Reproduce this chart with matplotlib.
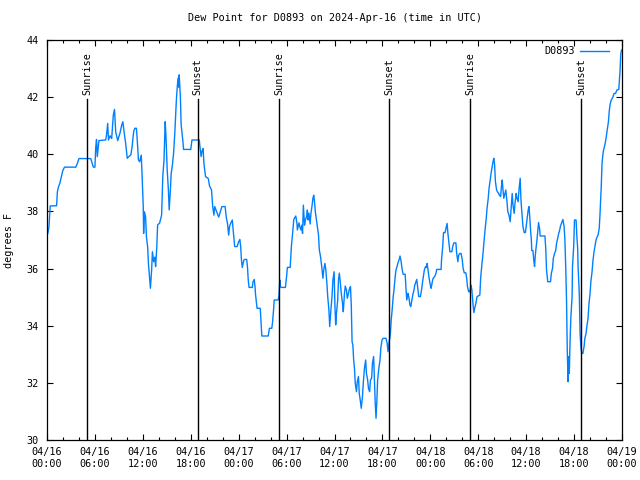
import matplotlib
matplotlib.use("Agg")
import matplotlib.pyplot as plt
import matplotlib.dates as mdates
import pandas as pd
from matplotlib.ticker import MultipleLocator

# hours after 2024-04-16 00:00 UTC, dew point in degrees F
hours = [
    0.1, 0.25, 0.4, 1.2, 1.3, 1.45, 1.6, 1.8, 2.0, 2.2, 3.6, 3.8, 4.0, 5.47, 5.6, 5.8,
    6.0, 6.1, 6.2, 6.3, 6.4, 6.5, 7.35, 7.45, 7.6, 7.7, 7.9, 8.1, 8.3, 8.45, 8.6, 8.85,
    9.0, 9.15, 9.35, 9.5, 9.65, 9.85, 10.05, 10.25, 10.5, 10.65, 10.85, 11.0, 11.2, 11.3,
    11.45, 11.6,
    11.8, 11.9, 12.05, 12.1, 12.2, 12.35, 12.45, 12.6, 12.7, 12.85, 12.95, 13.1, 13.2,
    13.35, 13.5, 13.6, 13.75, 13.85, 14.1, 14.35, 14.5, 14.65, 14.8, 14.9, 15.05, 15.2,
    15.3, 15.45, 15.55, 15.7, 15.85, 16.0, 16.2, 16.3, 16.4, 16.5, 16.55, 16.7, 16.8,
    17.0, 17.1, 18.0, 18.15, 19.07, 19.15, 19.3, 19.4, 19.55, 19.65, 19.85, 20.2, 20.35,
    20.6, 20.75, 20.9, 21.0, 21.25, 21.5, 21.7, 21.9, 22.3, 22.45, 22.6, 22.75, 22.85,
    23.0, 23.2, 23.35, 23.5, 23.8,
    24.0, 24.15, 24.25, 24.35, 24.45, 24.6, 24.7, 25.0, 25.1, 25.2, 25.3, 25.7, 25.8,
    25.95, 26.05, 26.1, 26.2, 26.3, 26.7, 26.8, 26.9, 27.7, 27.85, 28.15, 28.25, 28.4,
    28.45, 28.95, 29.05, 29.15, 29.2, 29.35, 29.85, 30.0, 30.1, 30.45, 30.6, 30.8, 30.9,
    31.05, 31.15, 31.3, 31.35, 31.55, 31.65, 31.8, 31.9, 32.0, 32.1, 32.25, 32.35, 32.5,
    32.6, 32.7, 32.8, 32.95, 33.05, 33.2, 33.3, 33.4, 33.5, 33.6, 33.8, 34.0, 34.1,
    34.25, 34.4, 34.55, 34.65, 34.8, 34.9, 35.05, 35.15, 35.3, 35.4,
    35.55, 35.7, 35.8, 35.95, 36.05, 36.15, 36.25, 36.4, 36.5, 36.6, 36.7, 36.85, 37.0,
    37.1, 37.25, 37.35, 37.5, 37.6, 37.75, 37.85, 38.0, 38.1, 38.2, 38.3, 38.4, 38.5,
    38.6, 38.75, 38.85, 39.0, 39.1, 39.25, 39.35, 39.5, 39.6, 39.75, 39.9, 40.0, 40.15,
    40.25, 40.4, 40.5, 40.65, 40.75, 40.9, 41.0, 41.1, 41.2, 41.3, 41.4, 41.55, 41.7,
    41.8, 41.95, 42.1, 42.45, 42.6, 42.7, 42.85, 43.0, 43.1, 43.2, 43.35, 43.45, 43.6,
    43.7, 43.85, 43.95, 44.1, 44.2, 44.35, 44.45, 44.6, 44.85, 44.95, 45.05, 45.2, 45.3,
    45.45, 45.55, 45.7, 45.8, 45.95, 46.05, 46.2, 46.3, 46.45, 46.55, 46.75, 46.9, 47.0,
    47.15, 47.25, 47.4, 47.5, 47.6,
    47.85, 48.0, 48.1, 48.25, 48.35, 48.55, 48.7, 48.8, 49.35, 49.4, 49.55, 49.65, 49.85,
    49.95, 50.1, 50.2, 50.35, 50.45, 50.7, 50.8, 50.95, 51.2, 51.3, 51.45, 51.55, 51.7,
    51.85, 52.0, 52.1, 52.25, 52.45, 52.55, 52.65, 52.8, 52.95, 53.1, 53.2, 53.35, 53.45,
    53.6, 53.7, 53.85, 54.2, 54.3, 54.45, 54.6, 54.7, 54.85, 55.0, 55.1, 55.25, 55.35,
    55.5, 55.6, 55.75, 55.85, 55.95, 56.05, 56.15, 56.3, 56.4, 56.55, 56.65, 56.8, 56.9,
    57.0, 57.1, 57.2, 57.35, 57.45, 57.6, 57.7, 57.85, 58.0, 58.1, 58.25, 58.35, 58.5,
    58.6, 58.75, 58.85, 59.0, 59.1, 59.25, 59.35,
    59.45, 59.6, 59.75, 59.9, 60.0, 60.15, 60.25, 60.35, 60.45, 60.55, 60.65, 60.7, 60.85,
    60.95, 61.05, 61.1, 61.2, 61.35, 61.45, 61.55, 61.7, 61.75, 62.35, 62.45, 62.55, 62.7,
    63.05, 63.15, 63.3, 63.4, 63.55, 63.7, 63.8, 63.95, 64.05, 64.2, 64.3, 64.45, 64.6,
    64.75, 64.85, 64.95, 65.05, 65.15, 65.25, 65.3, 65.4, 65.5, 65.6, 65.75, 65.8, 65.95,
    66.05, 66.25, 66.35, 66.45, 66.5, 66.65, 66.75, 66.85, 66.95, 67.1, 67.25, 67.35,
    67.5, 67.6, 67.75, 67.85, 68.0, 68.1, 68.25, 68.35, 68.5, 68.65, 68.75, 68.9, 69.0,
    69.15, 69.25, 69.4, 69.5, 69.65, 69.8, 69.9, 70.0, 70.15, 70.3, 70.4, 70.5, 70.65,
    70.85, 71.0, 71.2, 71.35, 71.6, 71.75, 71.85, 71.95,
]
dewpoint = [
    37.23, 37.47, 38.19, 38.2, 38.69, 38.87, 38.98, 39.22, 39.45, 39.55, 39.55, 39.68,
    39.85, 39.85, 39.74, 39.55, 39.55, 40.24, 40.52, 39.92, 40.2, 40.48, 40.5, 40.67,
    41.08, 40.5, 40.65, 40.55, 41.37, 41.57, 40.79, 40.48, 40.62, 40.75, 41.02, 41.14,
    40.79, 40.38, 39.86, 39.92, 39.98, 40.25, 40.79, 40.91, 40.91, 40.5, 39.80, 39.74,
    39.97, 39.33, 38.17, 37.23, 37.99, 37.8, 37.12, 36.77, 36.18, 35.66, 35.31, 35.95,
    36.59, 36.24, 36.4, 36.07, 36.77, 37.53, 37.59, 37.87, 39.22, 39.80, 41.14, 40.62,
    39.45, 38.75, 38.05, 38.75, 39.33, 39.62, 40.03, 40.73, 41.9, 42.31, 42.66, 42.35,
    42.78, 42.02, 41.02, 40.5, 40.17, 40.17, 40.5, 40.5, 40.27, 39.92, 40.1, 40.2, 39.68,
    39.22, 39.15, 38.89, 38.75, 38.17, 37.87, 38.17, 37.99, 37.8, 37.99, 38.17, 38.17,
    37.8, 37.58, 37.17, 37.47, 37.58, 37.7, 37.23, 36.77, 36.77,
    36.94, 37.02, 36.77, 36.3, 36.04, 36.24, 36.32, 36.32, 36.07, 35.6, 35.34, 35.34,
    35.54, 35.62, 35.36, 35.13, 34.88, 34.61, 34.61, 34.14, 33.64, 33.64, 33.91, 33.91,
    34.14, 34.67, 34.9, 34.9, 35.07, 35.6, 35.37, 35.34, 35.34, 35.72, 36.04, 36.04,
    36.77, 37.37, 37.72, 37.79, 37.84, 37.58, 37.35, 37.6, 37.47, 37.35, 37.52, 37.23,
    38.22, 37.52, 37.70, 37.82, 38.05, 37.7, 37.94, 37.56, 37.94, 38.22, 38.46, 38.57,
    38.33, 37.99, 37.58, 37.17, 36.65, 36.42, 36.07, 35.66, 35.95, 36.18, 36.0, 35.48,
    35.02, 34.55, 33.97,
    34.55, 35.07, 35.6, 35.89, 34.72, 34.03, 34.44, 34.9, 35.6, 35.84, 35.6, 35.13,
    34.79, 34.49, 35.13, 35.39, 35.25, 34.96, 35.13, 35.27, 35.37, 34.72, 33.44, 33.32,
    32.8, 32.51, 31.98, 31.69, 32.04, 32.22, 31.63, 31.34, 31.11, 31.52, 31.98, 32.51,
    32.8, 32.33, 32.1, 31.81, 31.69, 32.1, 32.16, 32.68, 32.92, 32.1, 31.28, 30.76,
    31.34, 32.1, 32.51, 32.8, 33.21, 33.5, 33.56, 33.56, 33.38, 33.09, 33.44, 33.73,
    34.2, 34.49, 35.02, 35.25, 35.72, 35.95, 36.09, 36.2, 36.32, 36.44, 36.24, 36.0,
    35.80, 35.8, 35.31, 34.9, 35.13, 35.02, 34.72, 34.67, 34.9, 35.07, 35.25, 35.42,
    35.54, 35.62, 35.25, 35.02, 35.02, 35.25, 35.48, 35.77, 35.95, 36.07, 36.04, 36.18,
    35.66, 35.42, 35.31, 35.54, 35.66, 35.72, 35.83, 35.97, 35.97, 36.3, 36.77, 37.26,
    37.26, 37.4, 37.58, 37.23, 36.83, 36.59, 36.59, 36.77, 36.9, 36.9, 36.53, 36.24,
    36.47, 36.53, 36.53, 36.3, 36.01, 35.85, 35.85, 35.66, 35.37, 35.19, 35.19, 35.42,
    35.25, 34.72, 34.46, 34.67, 34.78, 35.02, 35.07, 35.66, 36.13, 36.53, 36.88, 37.35,
    37.75, 38.11, 38.46, 38.81, 39.1, 39.33, 39.59, 39.74, 39.86, 39.63, 39.04, 38.75,
    38.69, 38.63, 38.57, 38.52, 38.86, 39.1, 38.75, 38.46, 38.63, 38.75, 38.34, 37.99,
    37.87, 37.64, 38.05, 38.63, 38.22, 37.93, 38.28, 38.63, 38.46, 38.34, 38.75, 39.16,
    38.40,
    38.0, 37.47, 37.26, 37.26, 37.47, 37.82, 38.05, 38.17, 37.82, 37.35, 37.0, 36.63,
    36.63, 36.3, 36.07, 36.3, 36.63, 37.0, 37.29, 37.61, 37.35, 37.14, 37.14, 36.71,
    35.95, 35.54, 35.54, 35.83, 36.01, 36.36, 36.53, 36.63, 36.88, 37.06, 37.2, 37.35,
    37.49, 37.61, 37.72, 37.47, 37.0, 36.07, 34.96, 33.09, 32.04, 32.92, 32.33, 33.5,
    34.32, 35.02, 36.07, 36.77, 37.7, 37.7, 37.12, 36.71, 36.07, 35.13, 33.73, 33.27,
    33.03, 33.03, 33.27, 33.56, 33.73, 33.97, 34.26, 34.72, 35.13, 35.54, 35.89, 36.24,
    36.59, 36.83, 37.0, 37.12, 37.17, 37.41, 37.93, 38.87, 39.69, 40.09, 40.27, 40.39,
    40.56, 40.85, 41.14, 41.5, 41.73, 41.9, 41.99, 42.13, 42.13, 42.25, 42.27, 42.89,
    43.53, 43.65,
]

sun_labels = ["Sunrise", "Sunset", "Sunrise", "Sunset", "Sunrise", "Sunset"]
sun_times = ["2024-04-16 05:04", "2024-04-16 18:52", "2024-04-17 05:03",
             "2024-04-17 18:52", "2024-04-18 05:00", "2024-04-18 18:54"]

plt.rcParams['font.family'] = ['DejaVu Sans Mono']
plt.rcParams['font.size'] = 7.3

start = pd.Timestamp("2024-04-16 00:00")
times = [start + pd.Timedelta(hours=h) for h in hours]

fig = plt.figure(figsize=(6.4, 4.8), dpi=100)
ax = fig.add_axes([47 / 640, 40 / 480, 575 / 640, 400 / 480])

ax.plot(times, dewpoint, color='#0080ff', lw=1.0, label='D0893')

for lab, t in zip(sun_labels, sun_times):
    t = pd.Timestamp(t)
    ax.plot([t, t], [30, 41.92], color='black', lw=1.0)
    ax.text(t, 42.08, lab, rotation=90, ha='center', va='bottom')

ax.set_xlim(start, start + pd.Timedelta(hours=72))
ax.set_ylim(30, 44)
ax.yaxis.set_major_locator(MultipleLocator(2))
ax.xaxis.set_major_locator(mdates.HourLocator(byhour=[0, 6, 12, 18]))
ax.xaxis.set_minor_locator(mdates.HourLocator(interval=2))
ax.xaxis.set_major_formatter(mdates.DateFormatter('%m/%d\n%H:%M'))

ax.tick_params(which='both', direction='in', top=True, right=True, width=0.8)
ax.tick_params(which='major', length=4)
ax.tick_params(which='minor', length=2.5)
ax.tick_params(axis='x', pad=5)
ax.tick_params(axis='y', pad=6)
for s in ax.spines.values():
    s.set_linewidth(0.9)

ax.set_title('Dew Point for D0893 on 2024-Apr-16 (time in UTC)', fontsize=7.3, pad=14)
ax.set_ylabel('degrees F')
ax.yaxis.set_label_coords(-0.057, 0.5)

ax.legend(loc='upper right', frameon=False, markerfirst=False, handlelength=2.9,
          handletextpad=0.5, borderaxespad=0.2, bbox_to_anchor=(0.988, 1.0))

fig.savefig('out.png', dpi=100)
